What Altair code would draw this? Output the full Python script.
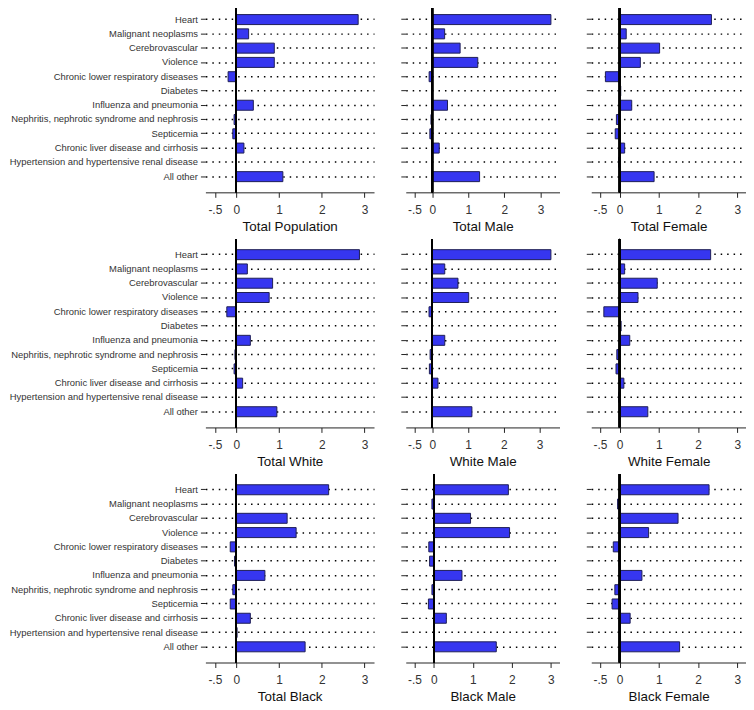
import altair as alt
import pandas as pd

causes = [
    "Heart",
    "Malignant neoplasms",
    "Cerebrovascular",
    "Violence",
    "Chronic lower respiratory diseases",
    "Diabetes",
    "Influenza and pneumonia",
    "Nephritis, nephrotic syndrome and nephrosis",
    "Septicemia",
    "Chronic liver disease and cirrhosis",
    "Hypertension and hypertensive renal disease",
    "All other",
]

total_population = [2.85, 0.29, 0.89, 0.89, -0.19, 0.00, 0.40, -0.05, -0.08, 0.18, 0.00, 1.09]
total_male = [3.29, 0.34, 0.77, 1.26, -0.09, -0.02, 0.42, -0.04, -0.07, 0.19, -0.01, 1.31]
total_female = [2.34, 0.17, 1.02, 0.53, -0.36, 0.03, 0.31, -0.08, -0.11, 0.13, -0.02, 0.88]
total_white = [2.88, 0.26, 0.85, 0.77, -0.22, 0.00, 0.33, -0.03, -0.05, 0.15, 0.00, 0.95]
white_male = [3.32, 0.35, 0.72, 1.02, -0.09, -0.02, 0.35, -0.06, -0.08, 0.16, -0.01, 1.11]
white_female = [2.32, 0.13, 0.96, 0.47, -0.40, 0.04, 0.26, -0.07, -0.09, 0.11, -0.02, 0.72]
total_black = [2.16, 0.00, 1.19, 1.40, -0.14, -0.04, 0.67, -0.08, -0.14, 0.33, 0.02, 1.61]
black_male = [1.91, -0.05, 0.94, 1.94, -0.13, -0.11, 0.72, -0.05, -0.14, 0.32, 0.00, 1.60]
black_female = [2.28, -0.05, 1.49, 0.74, -0.16, -0.01, 0.57, -0.12, -0.19, 0.27, 0.00, 1.53]

tick_values = [-0.5, 0, 1, 2, 3]

grid = [
    [("Total Population", total_population), ("Total Male", total_male), ("Total Female", total_female)],
    [("Total White", total_white), ("White Male", white_male), ("White Female", white_female)],
    [("Total Black", total_black), ("Black Male", black_male), ("Black Female", black_female)],
]
col_widths = [170, 155, 156]

FONT = "Liberation Sans"


def panel(title, values, width, show_labels):
    df = pd.DataFrame({"cause": causes, "value": values})
    lo = -0.5
    hi = max(3.0, max(values))
    pad = 0.063 * (hi - lo)
    x_scale = alt.Scale(domain=[lo - pad, hi + pad], nice=False, zero=False)
    x_axis = alt.Axis(
        title=title,
        values=tick_values,
        labelExpr="datum.value == -0.5 ? '-.5' : datum.label",
        labelOverlap=False,
        labelSeparation=0,
        labelFlush=False,
        grid=False,
        domainColor="#222222",
        domainWidth=1,
        tickColor="#222222",
        tickSize=5,
        labelPadding=7,
        labelFontSize=12,
        labelColor="#333333",
        labelFont=FONT,
        titleFont=FONT,
        titleFontSize=13.5,
        titleFontWeight="normal",
        titleColor="#111111",
        titlePadding=4,
    )
    y = alt.Y(
        "cause:N",
        sort=causes,
        scale=alt.Scale(paddingInner=0.3, paddingOuter=0.75),
        axis=alt.Axis(
            title=None,
            labels=show_labels,
            labelLimit=400,
            domain=False,
            grid=True,
            gridDash=[1.5, 5],
            gridColor="#000000",
            gridWidth=1.5,
            bandPosition=0.5,
            tickColor="#222222",
            tickSize=5,
            labelPadding=3,
            labelFontSize=9.5,
            labelColor="#333333",
            labelFont=FONT,
        ),
    )
    bars = alt.Chart(df).mark_bar(
        color="#3636f0", stroke="#1e1e55", strokeWidth=1
    ).encode(x=alt.X("value:Q", stack=None, scale=x_scale, axis=x_axis), y=y)
    zero = alt.Chart(df).mark_rule(color="#000000", strokeWidth=1.5).encode(
        x=alt.X(datum=0, type="quantitative", scale=x_scale, axis=x_axis)
    )
    return alt.layer(bars, zero).properties(width=width, height=190)


rows = []
for r, row in enumerate(grid):
    panels = [panel(t, v, col_widths[c], c == 0) for c, (t, v) in enumerate(row)]
    rows.append(alt.hconcat(*panels, spacing=26))

chart = (
    alt.vconcat(*rows, spacing=5)
    .properties(padding={"left": 0, "top": -8, "right": 0, "bottom": 0}, background="white")
    .configure_view(stroke=None)
    .configure_axis(labelOverlap=False, labelFlush=False)
    .configure_axisX(labelOverlap=False)
    .configure_axisQuantitative(labelOverlap=False)
)

chart.save("out.html", embed_options={"renderer": "svg", "actions": False})
